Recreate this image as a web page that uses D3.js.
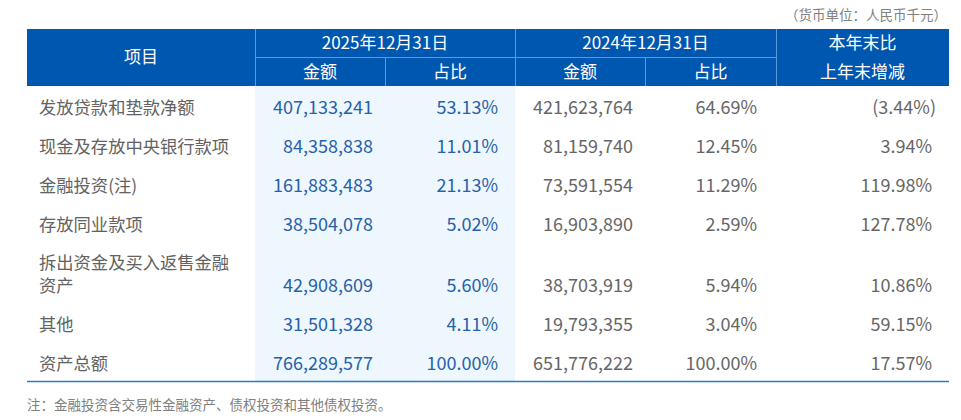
<!DOCTYPE html>
<html>
<head>
<meta charset="utf-8">
<script src="https://cdn.jsdelivr.net/npm/d3@7"></script>
<style>
  body { margin: 0; background: #fff; }
  svg text { font-family: "Noto Sans CJK SC", "Noto Sans", sans-serif; }
</style>
</head>
<body>
<div id="tabla"></div>
<script>
// datos de la tabla
const items = ["发放贷款和垫款净额", "现金及存放中央银行款项", "金融投资(注)", "存放同业款项", "拆出资金及买入返售金融资产", "其他", "资产总额"];
const amount2025 = [407133241, 84358838, 161883483, 38504078, 42908609, 31501328, 766289577];
const share2025 = [53.13, 11.01, 21.13, 5.02, 5.60, 4.11, 100.00];
const amount2024 = [421623764, 81159740, 73591554, 16903890, 38703919, 19793355, 651776222];
const share2024 = [64.69, 12.45, 11.29, 2.59, 5.94, 3.04, 100.00];
const change = [-3.44, 3.94, 119.98, 127.78, 10.86, 59.15, 17.57];

const headTop = ["项目", "2025年12月31日", "2024年12月31日", "本年末比"];
const headSub = ["金额", "占比", "金额", "占比"];
const unitNote = "（货币单位：人民币千元）";
const footNote = "注：金融投资含交易性金融资产、债权投资和其他债权投资。";

const c = { width: 961, height: 420, left: 27, right: 949, top: 29, headMid: 57, headBottom: 86, rowH: 39, tallH: 61 };

const svg = d3.select("#tabla").append("svg")
    .attr("width", c.width)
    .attr("height", c.height);

// column edges
const edges = [27, 255, 385, 515, 645, 776, 949];
const colX = d3.scaleOrdinal().domain(d3.range(7)).range(edges);

// rows: the fifth one wraps into two lines
const heights = items.map((d, i) => i === 4 ? c.tallH : c.rowH);
const rowTop = [];
heights.reduce((acc, h) => { rowTop.push(acc); return acc + h; }, c.headBottom);
const bottom = c.headBottom + d3.sum(heights);

const fmtN = d3.format(",");
const fmtP = v => v < 0 ? `(${Math.abs(v).toFixed(2)}%)` : `${v.toFixed(2)}%`;

// light band behind the 2025 columns
svg.append("rect")
    .attr("x", colX(1))
    .attr("y", c.headBottom)
    .attr("width", colX(3) - colX(1))
    .attr("height", bottom - c.headBottom)
    .attr("fill", "#eef7fd");

// header
svg.append("rect")
    .attr("x", c.left)
    .attr("y", c.top)
    .attr("width", c.right - c.left)
    .attr("height", c.headBottom - c.top)
    .attr("fill", "#0057b0");

const lineColor = "#5b9ad8";
const hl = svg.append("g").attr("stroke", lineColor).attr("stroke-width", 1);
[1, 3, 5].forEach(i => {
    hl.append("line").attr("x1", colX(i) + 0.5).attr("x2", colX(i) + 0.5).attr("y1", c.top).attr("y2", c.headBottom);
});
[2, 4].forEach(i => {
    hl.append("line").attr("x1", colX(i) + 0.5).attr("x2", colX(i) + 0.5).attr("y1", c.headMid).attr("y2", c.headBottom);
});
hl.append("line").attr("x1", colX(1)).attr("x2", colX(5)).attr("y1", c.headMid + 0.5).attr("y2", c.headMid + 0.5);

const ht = svg.append("g").attr("fill", "#fff").attr("font-size", 17).attr("text-anchor", "middle");
ht.append("text").attr("x", (colX(0) + colX(1)) / 2).attr("y", 63).text(headTop[0]);
ht.append("text").attr("x", (colX(1) + colX(3)) / 2).attr("y", 49).text(headTop[1]);
ht.append("text").attr("x", (colX(3) + colX(5)) / 2).attr("y", 49).text(headTop[2]);
ht.append("text").attr("x", (colX(5) + colX(6)) / 2).attr("y", 49).text(headTop[3]);
ht.append("text").attr("x", (colX(5) + colX(6)) / 2).attr("y", 78).text("上年末增减");
headSub.forEach((t, i) => {
    ht.append("text").attr("x", (colX(i + 1) + colX(i + 2)) / 2).attr("y", 78).text(t);
});

// body
const rows = svg.selectAll("g.fila")
    .data(items)
    .join("g")
    .attr("class", "fila")
    .attr("transform", (d, i) => `translate(0,${rowTop[i]})`);

const baseY = (i) => heights[i] - 11.5;

rows.each(function (d, i) {
    const g = d3.select(this);
    // long label wraps after 11 characters
    const lines = d.length > 11 ? [d.slice(0, 11), d.slice(11)] : [d];
    lines.forEach((t, k) => {
        g.append("text")
            .attr("x", c.left + 12)
            .attr("y", baseY(i) - (lines.length - 1 - k) * 22.5)
            .attr("fill", "#626262")
            .attr("font-size", 17.3)
            .text(t);
    });

    const cells = [
        { v: fmtN(amount2025[i]), col: 2, pad: 12, color: "#2661aa" },
        { v: fmtP(share2025[i]), col: 3, pad: 17, color: "#2661aa" },
        { v: fmtN(amount2024[i]), col: 4, pad: 12, color: "#666" },
        { v: fmtP(share2024[i]), col: 5, pad: 19, color: "#666" },
        { v: fmtP(change[i]), col: 6, pad: change[i] < 0 ? 13 : 17, color: "#666" }
    ];
    g.selectAll("text.val")
        .data(cells)
        .join("text")
        .attr("class", "val")
        .attr("x", e => colX(e.col) - e.pad)
        .attr("y", baseY(i))
        .attr("text-anchor", "end")
        .attr("font-size", 18)
        .attr("fill", e => e.color)
        .text(e => e.v);
});

svg.append("line")
    .attr("x1", c.left).attr("x2", c.right)
    .attr("y1", bottom + 0.5).attr("y2", bottom + 0.5)
    .attr("stroke", "#2a7cc7").attr("stroke-width", 1.5);

svg.append("text")
    .attr("x", 947).attr("y", 20)
    .attr("text-anchor", "end")
    .attr("font-size", 13.5)
    .attr("fill", "#808080")
    .text(unitNote);

svg.append("text")
    .attr("x", c.left).attr("y", 410)
    .attr("font-size", 13.5)
    .attr("fill", "#808080")
    .text(footNote);
</script>
</body>
</html>
